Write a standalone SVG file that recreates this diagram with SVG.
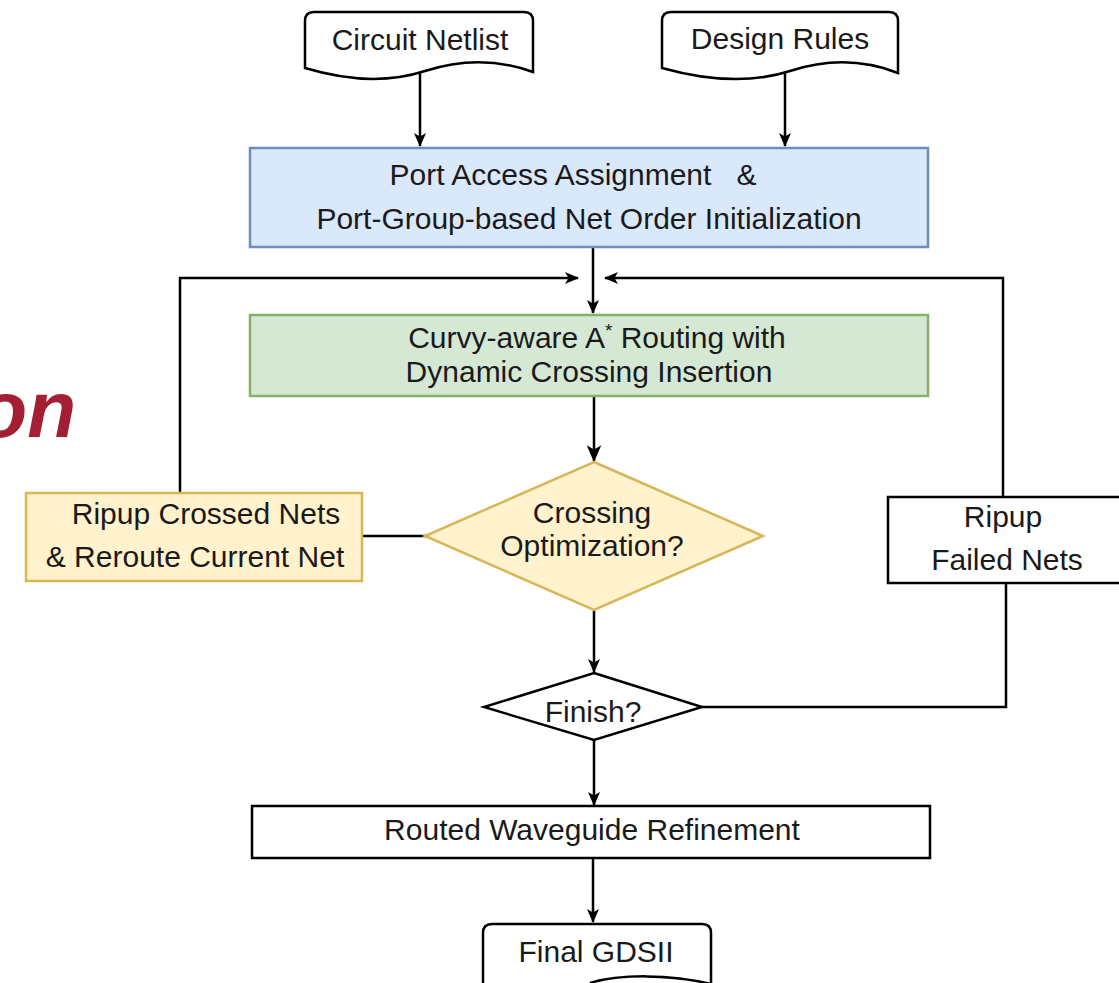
<svg xmlns="http://www.w3.org/2000/svg" width="1119" height="983" viewBox="0 0 1119 983">
<defs>
<style>
.t{font-family:"Liberation Sans",Arial,sans-serif;font-size:30px;fill:#1a1a1a;text-anchor:middle;white-space:pre}
.ln{fill:none;stroke:#000;stroke-width:2.5}
.box{stroke-width:2.5}
</style>
<marker id="ah" viewBox="0 0 14 12" refX="13" refY="6" markerWidth="14" markerHeight="12" markerUnits="userSpaceOnUse" orient="auto">
<path d="M0,0 L14,6 L0,12 L3.5,6 z" fill="#000"/>
</marker>
<marker id="ahb" viewBox="0 0 14 12" refX="13" refY="6" markerWidth="17" markerHeight="15" markerUnits="userSpaceOnUse" orient="auto">
<path d="M0,0 L14,6 L0,12 L3.5,6 z" fill="#000"/>
</marker>
</defs>
<rect width="1119" height="983" fill="#fff"/>
<text x="76" y="437" font-family="Liberation Sans,Arial,sans-serif" font-size="80" font-weight="bold" font-style="italic" fill="#a41e34" text-anchor="end">on</text>
<g id="connectors">
<path class="ln" d="M420,72 V146" marker-end="url(#ah)"/>
<path class="ln" d="M785,70 V146" marker-end="url(#ah)"/>
<path class="ln" d="M593,248 V313" marker-end="url(#ah)"/>
<path class="ln" d="M180,493 V278 H578" marker-end="url(#ah)"/>
<path class="ln" d="M1003,497 V278 H605" marker-end="url(#ah)"/>
<path class="ln" d="M594,397 V461" stroke-width="3.2" marker-end="url(#ahb)"/>
<path class="ln" d="M362,536 H426"/>
<path class="ln" d="M594,610 V672" marker-end="url(#ah)"/>
<path class="ln" d="M1006,583 V707 H702"/>
<path class="ln" d="M594,740 V805" marker-end="url(#ah)"/>
<path class="ln" d="M593,859 V922" marker-end="url(#ah)"/>
</g>
<g id="circuit-netlist">
<path class="box" d="M305,68 V21 Q305,12 314,12 H524 Q533,12 533,21 V72 C500,60 465,58 425,71 C385,84 345,80 305,68 Z" fill="#fff" stroke="#000"/>
<text class="t" x="420" y="50">Circuit Netlist</text>
</g>
<g id="design-rules">
<path class="box" d="M662,68 V21 Q662,12 671,12 H889 Q898,12 898,21 V73 C865,60 830,58 790,71 C750,84 705,80 662,68 Z" fill="#fff" stroke="#000"/>
<text class="t" x="780" y="49">Design Rules</text>
</g>
<g id="port-access">
<rect class="box" x="250" y="148" width="678" height="99" fill="#dae8fc" stroke="#6c8ebf"/>
<text class="t" x="573" y="185">Port Access Assignment   &amp;</text>
<text class="t" x="589" y="229">Port-Group-based Net Order Initialization</text>
</g>
<g id="astar-routing">
<rect class="box" x="250" y="315" width="678" height="81" fill="#d5e8d4" stroke="#82b366"/>
<text class="t" x="597" y="348">Curvy-aware A<tspan font-size="19" dy="-11">*</tspan><tspan dy="11"> Routing with</tspan></text>
<text class="t" x="589" y="382">Dynamic Crossing Insertion</text>
</g>
<g id="crossing-opt">
<path class="box" d="M594,462 L763,536 L594,610 L425,536 Z" fill="#fff2cc" stroke="#d6b656"/>
<text class="t" x="592" y="523">Crossing</text>
<text class="t" x="592" y="556">Optimization?</text>
</g>
<g id="ripup-crossed">
<rect class="box" x="26" y="493" width="336" height="88" fill="#fff2cc" stroke="#d6b656"/>
<text class="t" x="206" y="524">Ripup Crossed Nets</text>
<text class="t" x="195" y="567">&amp; Reroute Current Net</text>
</g>
<g id="ripup-failed">
<rect class="box" x="888" y="497" width="240" height="86" fill="#fff" stroke="#000"/>
<text class="t" x="1003" y="527">Ripup</text>
<text class="t" x="1007" y="570">Failed Nets</text>
</g>
<g id="finish">
<path class="box" d="M594,673 L702,707 L594,740 L484,707 Z" fill="#fff" stroke="#000"/>
<text class="t" x="593" y="722">Finish?</text>
</g>
<g id="refinement">
<rect class="box" x="252" y="806" width="678" height="52" fill="#fff" stroke="#000"/>
<text class="t" x="592" y="840">Routed Waveguide Refinement</text>
</g>
<g id="final-gdsii">
<path class="box" d="M483,1000 V933 Q483,924 492,924 H702 Q711,924 711,933 V1000 Z" fill="#fff" stroke="#000"/>
<path class="ln" d="M590,983 C620,974 670,974 711,984"/>
<text class="t" x="596" y="962">Final GDSII</text>
</g>
</svg>
